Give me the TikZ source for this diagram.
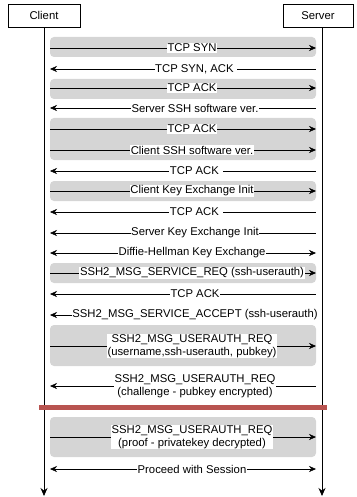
\documentclass[tikz,border=0pt]{standalone}
\usepackage{fontspec}
\setmainfont{Liberation Sans}
\usepackage{tikz}
\usetikzlibrary{arrows.meta,calc}
\definecolor{bandgray}{RGB}{213,213,213}
\definecolor{sepred}{RGB}{184,84,80}

\begin{document}
\begin{tikzpicture}[x=1pt,y=-1pt,font=\fontsize{11.3}{13}\selectfont,
  actor/.style={draw,minimum height=23pt,inner sep=0pt},
  band/.style={fill=bandgray,rounded corners=4pt},
  life/.style={line width=0.8pt,-{Stealth[length=8pt,width=7pt]}},
  rmsg/.style={-{Stealth[length=7pt,width=6pt]}},
  lmsg/.style={{Stealth[length=7pt,width=6pt]}-},
  bmsg/.style={{Stealth[length=7pt,width=6pt]}-{Stealth[length=7pt,width=6pt]}},
  lbl/.style={fill=white,inner sep=0.6pt,align=center}]
\useasboundingbox (0,0) rectangle (356,497);

% actors and lifelines
\node[actor,minimum width=72pt] (client) at (44,15.5) {Client};
\node[actor,minimum width=70pt] (server) at (318,15.5) {Server};
\coordinate (cend) at (44,496);
\coordinate (send) at (322,496);
\draw[life] (client) -- (cend);
\draw[life] (server.south -| send) -- (send);

% grey bands
\fill[band] (50,37) rectangle (316,57);
\fill[band] (50,79) rectangle (316,99);
\fill[band] (50,118) rectangle (316,160);
\fill[band] (50,181) rectangle (316,201);
\fill[band] (50,263) rectangle (316,283);
\fill[band] (50,325) rectangle (316,366);
\fill[band] (50,417) rectangle (316,457);

% messages
\foreach \y/\d/\x/\t [count=\i] in {
  48/rmsg/192/{TCP SYN},
  69/lmsg/196/{TCP SYN, ACK\ },
  88/rmsg/192/{TCP ACK},
  108/lmsg/195/{Server SSH software ver.},
  129/rmsg/192/{TCP ACK},
  150/rmsg/192/{Client SSH software ver.},
  171/lmsg/196/{TCP ACK\ },
  191/rmsg/192/{Client Key Exchange Init},
  212/lmsg/196/{TCP ACK\ },
  233/lmsg/195/{Server Key Exchange Init},
  253/bmsg/192/{Diffie-Hellman Key Exchange},
  273/rmsg/192/{SSH2\_MSG\_SERVICE\_REQ (ssh-userauth)},
  294/lmsg/195/{TCP ACK},
  315/lmsg/195/{SSH2\_MSG\_SERVICE\_ACCEPT (ssh-userauth)},
  346/rmsg/192/{SSH2\_MSG\_USERAUTH\_REQ\\(username,ssh-userauth, pubkey)},
  386/lmsg/195/{SSH2\_MSG\_USERAUTH\_REQ\\(challenge - pubkey encrypted)},
  437/rmsg/192/{SSH2\_MSG\_USERAUTH\_REQ\\(proof - privatekey decrypted)},
  469/bmsg/192/{Proceed with Session}}
{
  \coordinate (c\i) at (50,\y);
  \coordinate (s\i) at (316,\y);
  \draw[\d] (c\i) -- (s\i);
  \node[lbl] (m\i) at (\x,\y) {\t};
}

% separator
\draw[line width=5pt,sepred] (39,407) -- (327,407);
\end{tikzpicture}
\end{document}
